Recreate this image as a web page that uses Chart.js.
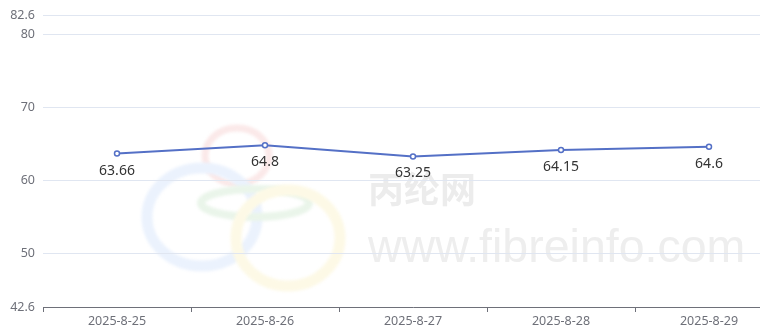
<!DOCTYPE html>
<html>
<head>
<meta charset="utf-8">
<script src="https://cdn.jsdelivr.net/npm/chart.js@4.4.1/dist/chart.umd.min.js"></script>
<style>
html,body{margin:0;padding:0;background:#fff;overflow:hidden;}
#wrap{position:relative;width:790px;height:336px;}
</style>
</head>
<body>
<div id="wrap"><canvas id="c"></canvas></div>
<script>
const categories = ["2025-8-25","2025-8-26","2025-8-27","2025-8-28","2025-8-29"];
const values = [63.66, 64.8, 63.25, 64.15, 64.6];
const yTicks = [42.6, 50, 60, 70, 80, 82.6];
const yMin = 42.6, yMax = 82.6;
const watermarkCn = "丙纶网";
const watermarkUrl = "www.fibreinfo.com";

const bgPlugin = {
  id: 'bg',
  beforeDraw(chart) {
    const ctx = chart.ctx;
    ctx.save();
    ctx.fillStyle = '#fff';
    ctx.fillRect(0, 0, chart.width, chart.height);
    function ring(cx, cy, rx, ry, w, col) {
      ctx.beginPath();
      ctx.ellipse(cx, cy, rx, ry, 0, 0, Math.PI * 2);
      ctx.lineWidth = w;
      ctx.strokeStyle = col;
      ctx.stroke();
    }
    ctx.filter = 'blur(1.5px)';
    ring(237, 156, 32, 28, 7, '#fbe9e9');
    ring(202, 217, 55, 49, 11, '#ebf2fd');
    ring(255, 203, 54, 14, 8, '#eaf5ea');
    ring(288, 238, 52, 48, 11, '#fdf9e6');
    ctx.filter = 'none';
    ctx.fillStyle = '#ececec';
    ctx.textBaseline = 'alphabetic';
    ctx.textAlign = 'left';
    ctx.font = 'bold 36px "Noto Sans CJK SC"';
    ctx.fillText(watermarkCn, 368, 203);
    ctx.fillStyle = '#eeeeee';
    const target = 377;
    ctx.font = '50px "Liberation Sans"';
    const w = ctx.measureText(watermarkUrl).width;
    const fs = 50 * target / w;
    ctx.font = fs.toFixed(1) + 'px "Liberation Sans"';
    ctx.fillText(watermarkUrl, 368, 262);
    ctx.restore();
  }
};

const labelPlugin = {
  id: 'vlabels',
  afterDatasetsDraw(chart) {
    const ctx = chart.ctx;
    const meta = chart.getDatasetMeta(0);
    ctx.save();
    ctx.fillStyle = '#333';
    ctx.font = '14px "Noto Sans"';
    ctx.textAlign = 'center';
    ctx.textBaseline = 'middle';
    meta.data.forEach((pt, i) => {
      ctx.fillText(String(values[i]), pt.x, pt.y + 17);
    });
    ctx.restore();
  }
};

new Chart(document.getElementById('c'), {
  type: 'line',
  data: {
    labels: categories,
    datasets: [{
      data: values,
      borderColor: '#5470c6',
      borderWidth: 2,
      tension: 0,
      pointRadius: 2.5,
      pointBorderWidth: 1.5,
      pointBackgroundColor: '#fff',
      pointBorderColor: '#5470c6',
      fill: false
    }]
  },
  options: {
    responsive: true,
    maintainAspectRatio: false,
    animation: false,
    layout: { padding: { top: 14, right: 7, left: 0, bottom: 0 } },
    plugins: { legend: { display: false }, tooltip: { enabled: false } },
    scales: {
      x: {
        type: 'category',
        offset: true,
        grid: { offset: true, drawOnChartArea: false, drawTicks: true, tickLength: 5, color: '#6e7079' },
        border: { display: true, color: '#6e7079', width: 1 },
        ticks: { color: '#6e7079', font: { size: 12.5, family: '"Noto Sans"' }, padding: 2, maxRotation: 0, autoSkip: false },
        afterFit(scale) { scale.height = 29; }
      },
      y: {
        min: yMin,
        max: yMax,
        grid: { color: '#e0e6f1', drawTicks: false },
        border: { display: false },
        ticks: { color: '#6e7079', font: { size: 12.5, family: '"Noto Sans"' }, padding: 8 },
        afterBuildTicks(scale) { scale.ticks = yTicks.map(v => ({ value: v })); },
        afterFit(scale) { scale.width = 43; }
      }
    }
  },
  plugins: [bgPlugin, labelPlugin]
});
</script>
</body>
</html>
